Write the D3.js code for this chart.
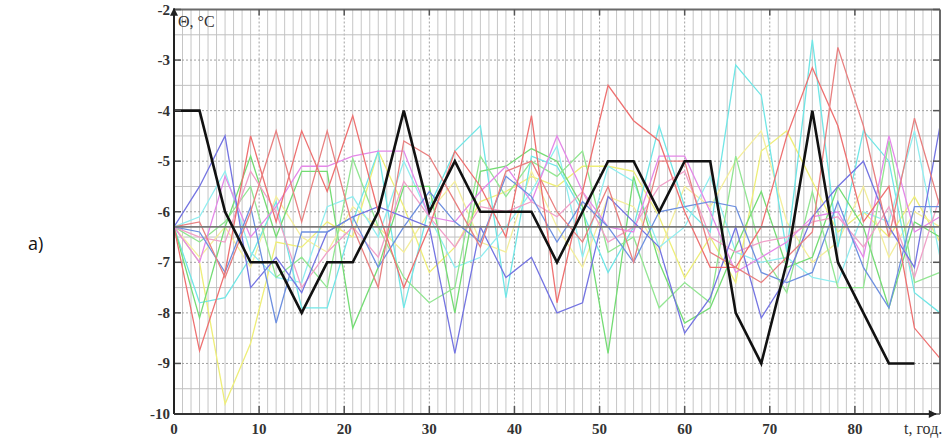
<!DOCTYPE html>
<html><head><meta charset="utf-8">
<script src="https://cdn.jsdelivr.net/npm/d3@7"></script>
<style>body{margin:0;background:#fff}svg{display:block}</style>
</head><body>
<svg id="c" width="949" height="439"></svg>
<script>
const years = [0,3,6,9,12,15,18,21,24,27,30,33,36,39,42,45,48,51,54,57,60,63,66,69,72,75,78,81,84,87,90];
const blackYears = [0,3,6,9,12,15,18,21,24,27,30,33,36,39,42,45,48,51,54,57,60,63,66,69,72,75,78,81,84,87];
const blackValues = [-4,-4,-6,-7,-7,-8,-7,-7,-6,-4,-6,-5,-6,-6,-6,-7,-6,-5,-5,-6,-5,-5,-8,-9,-7,-4,-7,-8,-9,-9];
const meanValue = -6.3;
const xTicks = [0,10,20,30,40,50,60,70,80];
const yTicks = [-2,-3,-4,-5,-6,-7,-8,-9,-10];
const red1 = [-6.3,-8.75,-7.2,-4.5,-6.2,-4.4,-5.6,-4.1,-6.0,-7.5,-6.3,-4.8,-5.5,-6.5,-4.1,-7.8,-5.6,-3.5,-4.2,-4.6,-6.0,-7.1,-7.1,-6.3,-4.5,-3.15,-4.3,-6.2,-5.5,-8.3,-8.9];
const red2 = [-6.3,-6.2,-7.3,-6.0,-4.4,-6.2,-4.4,-6.3,-7.5,-4.6,-4.9,-5.8,-6.7,-5.2,-5.0,-6.0,-6.6,-5.5,-7.0,-5.0,-5.0,-6.8,-7.1,-7.4,-6.9,-6.4,-2.75,-4.3,-6.5,-4.15,-5.9];
const blue1 = [-6.3,-5.5,-4.5,-7.5,-6.9,-7.6,-6.4,-6.1,-5.9,-6.1,-6.3,-8.8,-6.3,-7.3,-6.9,-8.0,-7.8,-5.7,-6.2,-6.7,-8.4,-7.7,-6.3,-8.1,-7.3,-6.1,-5.5,-5.0,-6.3,-7.1,-4.3];
const blue2 = [-6.3,-6.4,-7.2,-5.9,-8.2,-6.4,-6.4,-6.1,-7.1,-6.3,-5.6,-6.2,-6.6,-5.3,-5.7,-6.6,-5.8,-6.3,-7.0,-6.0,-5.9,-5.8,-5.9,-7.2,-7.4,-7.2,-5.8,-7.1,-7.9,-5.9,-5.9];
const green1 = [-6.3,-8.1,-6.3,-4.9,-6.5,-5.2,-5.2,-8.3,-7.1,-5.5,-5.5,-8.0,-5.2,-5.1,-4.75,-5.0,-5.9,-8.8,-5.3,-7.0,-8.2,-7.9,-6.7,-5.6,-7.1,-6.9,-5.5,-6.3,-7.9,-6.2,-6.5];
const green2 = [-6.3,-6.6,-6.2,-5.5,-7.3,-6.9,-7.5,-4.95,-6.3,-7.3,-7.8,-7.5,-4.9,-5.7,-5.0,-5.3,-4.8,-6.8,-6.5,-7.9,-7.4,-7.8,-4.9,-6.8,-7.6,-5.6,-7.5,-7.5,-4.6,-7.4,-7.2];
const cyan1 = [-6.3,-7.8,-7.7,-6.9,-5.8,-7.9,-7.9,-6.2,-4.8,-7.9,-5.9,-4.8,-4.3,-7.7,-4.9,-5.1,-6.0,-7.2,-6.3,-4.3,-5.9,-6.4,-3.1,-3.7,-6.8,-2.6,-6.7,-4.4,-5.0,-7.6,-8.0];
const cyan2 = [-6.3,-6.1,-5.2,-6.8,-7.3,-7.4,-5.9,-5.7,-6.5,-5.0,-6.1,-7.1,-6.9,-6.3,-5.6,-4.7,-6.9,-5.1,-5.4,-6.7,-6.3,-5.3,-6.8,-7.0,-6.9,-7.3,-7.4,-6.0,-6.2,-4.4,-6.9];
const yellow1 = [-6.3,-7.0,-9.8,-8.6,-6.6,-6.7,-6.2,-6.5,-4.8,-5.9,-7.2,-6.7,-5.8,-5.6,-5.3,-5.5,-5.1,-5.1,-5.2,-6.1,-7.3,-6.5,-7.4,-4.8,-4.4,-5.4,-6.4,-6.0,-6.5,-5.7,-6.6];
const yellow2 = [-6.3,-6.9,-6.3,-7.1,-5.7,-6.5,-6.8,-5.9,-6.3,-6.8,-6.0,-5.4,-6.6,-6.8,-5.2,-6.3,-7.1,-5.7,-5.9,-6.8,-5.5,-5.9,-5.0,-4.4,-6.2,-7.0,-6.6,-5.5,-6.9,-6.0,-6.3];
const magenta1 = [-6.3,-7.0,-5.3,-6.5,-5.9,-5.1,-5.1,-4.9,-4.8,-4.8,-6.1,-6.2,-5.6,-5.1,-5.8,-4.5,-5.6,-6.3,-6.4,-4.9,-4.9,-6.0,-7.2,-6.9,-6.6,-6.1,-6.0,-6.9,-4.5,-6.4,-6.1];
const magenta2 = [-6.3,-6.5,-6.6,-5.2,-6.0,-7.5,-6.8,-6.3,-6.9,-5.4,-6.1,-6.7,-5.9,-6.0,-5.8,-6.1,-5.6,-6.6,-6.3,-5.5,-5.2,-6.5,-6.8,-6.6,-6.5,-6.2,-6.1,-6.7,-5.9,-7.3,-5.7];

const series = [
  {v: yellow1, c: "#eeee78"}, {v: yellow2, c: "#f4ee9c"},
  {v: cyan1, c: "#70e6e6"}, {v: cyan2, c: "#90eef0"},
  {v: green1, c: "#74dc74"}, {v: green2, c: "#92e692"},
  {v: magenta1, c: "#e488e8"}, {v: magenta2, c: "#f0a0c8"},
  {v: blue1, c: "#7474e2"}, {v: blue2, c: "#6e90e0"},
  {v: red1, c: "#ee7070"}, {v: red2, c: "#e88080"}
];

const svg = d3.select("#c");
const x = d3.scaleLinear().domain([0, 90]).range([174, 940]);
const y = d3.scaleLinear().domain([-10, -2]).range([414, 9.5]);

const g = svg.append("g");
// grid
g.selectAll(".vg").data(d3.range(1, 90)).join("line")
  .attr("x1", d => x(d)).attr("x2", d => x(d)).attr("y1", y(-2)).attr("y2", y(-10))
  .attr("stroke", d => d % 10 === 0 ? "#a0a0a0" : "#c6c6c6")
  .attr("stroke-width", 1)
  .attr("stroke-dasharray", d => d % 10 === 0 ? "2,2" : null);
g.selectAll(".hg").data(d3.range(-9.5, -2, 0.5)).join("line")
  .attr("x1", x(0)).attr("x2", x(90)).attr("y1", d => y(d)).attr("y2", d => y(d))
  .attr("stroke", d => Number.isInteger(d) ? "#a0a0a0" : "#c0c0c0")
  .attr("stroke-width", 1)
  .attr("stroke-dasharray", d => Number.isInteger(d) ? "2,2" : null);

const line = d3.line().x((d, i) => x(years[i])).y(d => y(d));
g.selectAll(".s").data(series).join("path")
  .attr("d", d => line(d.v)).attr("fill", "none")
  .attr("stroke", d => d.c).attr("stroke-width", 1.3);

// mean line
g.append("line").attr("x1", x(0)).attr("x2", x(90)).attr("y1", y(meanValue)).attr("y2", y(meanValue))
  .attr("stroke", "#7a7a7a").attr("stroke-width", 1.6);

// black series
const bline = d3.line().x((d, i) => x(blackYears[i])).y(d => y(d));
g.append("path").attr("d", bline(blackValues)).attr("fill", "none")
  .attr("stroke", "#111").attr("stroke-width", 2.6).attr("stroke-linejoin", "miter");

// frame top / right
g.append("line").attr("x1", x(0)).attr("x2", x(90)).attr("y1", y(-2)).attr("y2", y(-2)).attr("stroke", "#6a6a6a").attr("stroke-width", 2);
g.append("line").attr("x1", x(90)).attr("x2", x(90)).attr("y1", y(-2)).attr("y2", y(-10)).attr("stroke", "#6a6a6a").attr("stroke-width", 2);

// ticks
g.selectAll(".ylt").data(yTicks).join("line")
  .attr("x1", x(0)).attr("x2", x(0) + 7).attr("y1", d => y(d)).attr("y2", d => y(d)).attr("stroke", "#555").attr("stroke-width", 1.5);
g.selectAll(".yrt").data(yTicks).join("line")
  .attr("x1", x(90)).attr("x2", x(90) - 7).attr("y1", d => y(d)).attr("y2", d => y(d)).attr("stroke", "#555").attr("stroke-width", 1.5);
g.selectAll(".xbt").data(xTicks).join("line")
  .attr("x1", d => x(d)).attr("x2", d => x(d)).attr("y1", y(-10)).attr("y2", y(-10) - 8).attr("stroke", "#555").attr("stroke-width", 1.5);
g.selectAll(".xtt").data(xTicks).join("line")
  .attr("x1", d => x(d)).attr("x2", d => x(d)).attr("y1", y(-2)).attr("y2", y(-2) + 6).attr("stroke", "#555").attr("stroke-width", 1.5);

// axes lines with arrows
svg.append("defs").append("marker").attr("id", "arr").attr("viewBox", "0 0 10 10")
  .attr("refX", 9).attr("refY", 5).attr("markerWidth", 5).attr("markerHeight", 4)
  .attr("orient", "auto").append("path").attr("d", "M0,0L10,5L0,10Z").attr("fill", "#222");
svg.append("line").attr("x1", x(0)).attr("x2", x(0)).attr("y1", y(-10)).attr("y2", y(-2) - 1)
  .attr("stroke", "#222").attr("stroke-width", 2).attr("marker-end", "url(#arr)");
svg.append("line").attr("x1", x(0)).attr("x2", x(90) - 4).attr("y1", y(-10)).attr("y2", y(-10))
  .attr("stroke", "#333").attr("stroke-width", 2).attr("marker-end", "url(#arr)");

// tick labels
const font = "'Liberation Serif', 'DejaVu Serif', serif";
svg.selectAll(".yl").data(yTicks).join("text")
  .attr("x", x(0) - 4).attr("y", d => y(d) + 5).attr("text-anchor", "end")
  .attr("font-family", font).attr("font-size", 15).attr("font-weight", "bold").attr("fill", "#333")
  .text(d => d);
svg.selectAll(".xl").data(xTicks).join("text")
  .attr("x", d => x(d)).attr("y", 434).attr("text-anchor", "middle")
  .attr("font-family", font).attr("font-size", 15).attr("font-weight", "bold").attr("fill", "#333")
  .text(d => d);

svg.append("text").attr("x", 178).attr("y", 27).attr("font-family", font).attr("font-size", 16).attr("fill", "#333").text("Θ, °C");
svg.append("text").attr("x", 904).attr("y", 434).attr("font-family", font).attr("font-size", 16).attr("fill", "#333").text("t, год.");
svg.append("text").attr("x", 28).attr("y", 250).attr("font-family", "'Open Sans', 'Liberation Sans', sans-serif").attr("font-size", 18).attr("fill", "#111").text("a)");
</script>
</body></html>
